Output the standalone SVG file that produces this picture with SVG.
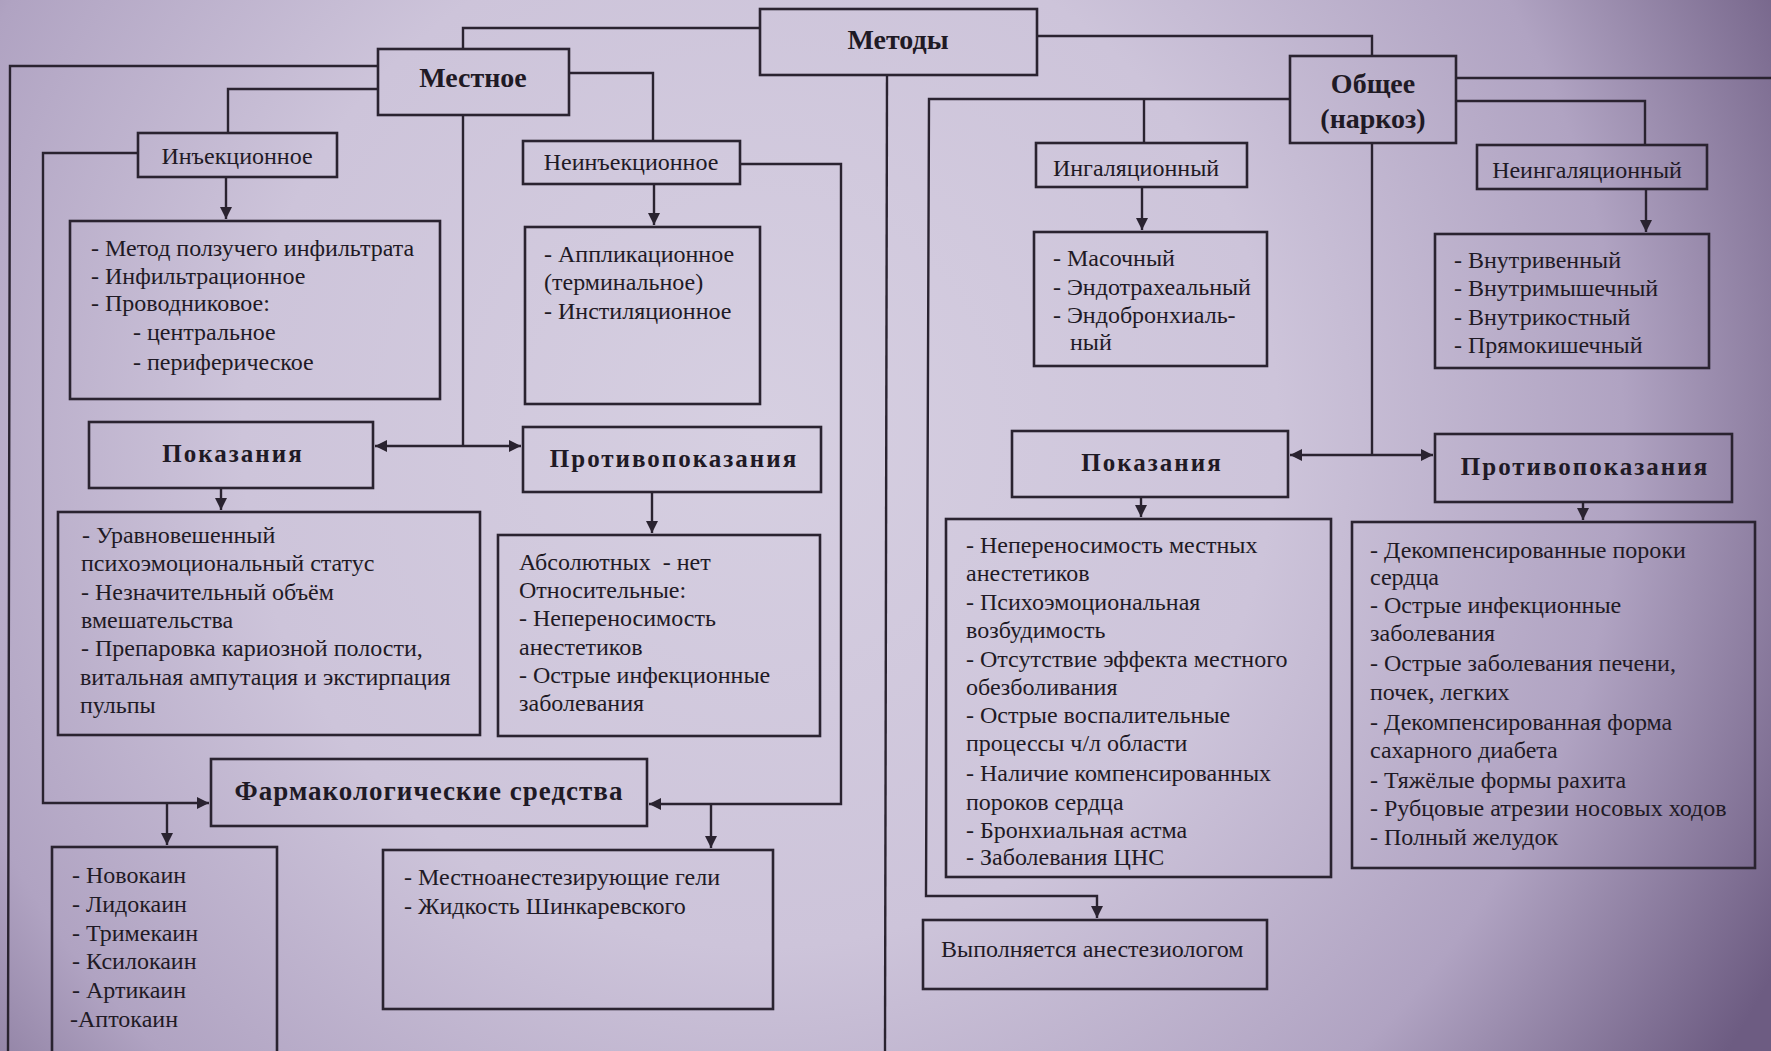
<svg xmlns="http://www.w3.org/2000/svg" width="1771" height="1051" viewBox="0 0 1771 1051">
<style>
.bx{fill:none;stroke:#2a2330;stroke-width:2.6}
.ln{fill:none;stroke:#2a2330;stroke-width:2.4}
.t{font-family:"Liberation Serif","Times New Roman",serif;font-size:24px;fill:#1f1a25}
.h{font-family:"Liberation Serif","Times New Roman",serif;font-size:28px;font-weight:bold;fill:#1f1a25;text-anchor:middle}
.h2{font-family:"Liberation Serif","Times New Roman",serif;font-size:25px;font-weight:bold;fill:#1f1a25;text-anchor:middle;letter-spacing:2px}
.c{text-anchor:middle}
</style>
<defs>
<radialGradient id="bg" cx="760" cy="430" r="1150" gradientUnits="userSpaceOnUse">
<stop offset="0" stop-color="#d6cfe1"/>
<stop offset="0.45" stop-color="#cdc4da"/>
<stop offset="0.75" stop-color="#b0a3c2"/>
<stop offset="1" stop-color="#6d5c82"/>
</radialGradient>
<marker id="ar" viewBox="0 0 10 10" refX="10" refY="5" markerWidth="12" markerHeight="12" markerUnits="userSpaceOnUse" orient="auto-start-reverse">
<path d="M0,0 L10,5 L0,10 z" fill="#2a2330"/>
</marker>
</defs>
<rect x="0" y="0" width="1771" height="1051" fill="url(#bg)"/>

<g id="connectors">
<polyline class="ln" points="760,28 463,28 463,49"/>
<polyline class="ln" points="1037,36 1372,36 1372,56"/>
<polyline class="ln" points="887,75 885,1051"/>
<polyline class="ln" points="378,66 10,66 8,1051"/>
<polyline class="ln" points="378,89 228,89 228,133"/>
<polyline class="ln" points="569,73 653,73 653,141"/>
<polyline class="ln" points="463,115 463,446"/>
<line class="ln" x1="375" y1="446" x2="521" y2="446" marker-start="url(#ar)" marker-end="url(#ar)"/>
<polyline class="ln" points="138,153 43,153 43,803 209,803" marker-end="url(#ar)"/>
<line class="ln" x1="167" y1="803" x2="167" y2="845" marker-end="url(#ar)"/>
<polyline class="ln" points="740,164 841,164 841,804 649,804" marker-end="url(#ar)"/>
<line class="ln" x1="711" y1="804" x2="711" y2="848" marker-end="url(#ar)"/>
<line class="ln" x1="226" y1="177" x2="226" y2="219" marker-end="url(#ar)"/>
<line class="ln" x1="654" y1="184" x2="654" y2="225" marker-end="url(#ar)"/>
<line class="ln" x1="221" y1="488" x2="221" y2="510" marker-end="url(#ar)"/>
<line class="ln" x1="652" y1="492" x2="652" y2="533" marker-end="url(#ar)"/>
<polyline class="ln" points="1456,78 1771,78"/>
<polyline class="ln" points="1456,101 1645,101 1645,145"/>
<polyline class="ln" points="1290,99 929,99 926,896 1097,896 1097,918" marker-end="url(#ar)"/>
<polyline class="ln" points="1144,99 1144,143"/>
<line class="ln" x1="1142" y1="187" x2="1142" y2="230" marker-end="url(#ar)"/>
<line class="ln" x1="1646" y1="189" x2="1646" y2="232" marker-end="url(#ar)"/>
<polyline class="ln" points="1372,143 1372,455"/>
<line class="ln" x1="1290" y1="455" x2="1433" y2="455" marker-start="url(#ar)" marker-end="url(#ar)"/>
<line class="ln" x1="1141" y1="497" x2="1141" y2="517" marker-end="url(#ar)"/>
<line class="ln" x1="1583" y1="502" x2="1583" y2="520" marker-end="url(#ar)"/>
</g>

<g id="metody"><rect class="bx" x="760" y="9" width="277" height="66"/><text class="h" x="898" y="49">Методы</text></g>
<g id="mestnoe"><rect class="bx" x="378" y="49" width="191" height="66"/><text class="h" x="473" y="87">Местное</text></g>
<g id="obshee"><rect class="bx" x="1290" y="56" width="166" height="87"/><text class="h" x="1373" y="93">Общее</text><text class="h" x="1373" y="128">(наркоз)</text></g>

<g id="inj"><rect class="bx" x="138" y="133" width="199" height="44"/><text class="t c" x="237" y="164">Инъекционное</text></g>
<g id="noninj"><rect class="bx" x="523" y="141" width="217" height="43"/><text class="t c" x="631" y="170">Неинъекционное</text></g>

<g id="inj-list"><rect class="bx" x="70" y="221" width="370" height="178"/>
<text class="t"><tspan x="91" y="256">- Метод ползучего инфильтрата</tspan><tspan x="91" y="284">- Инфильтрационное</tspan><tspan x="91" y="311">- Проводниковое:</tspan><tspan x="133" y="340">- центральное</tspan><tspan x="133" y="370">- периферическое</tspan></text></g>

<g id="noninj-list"><rect class="bx" x="525" y="227" width="235" height="177"/>
<text class="t"><tspan x="544" y="262">- Аппликационное</tspan><tspan x="544" y="290">(терминальное)</tspan><tspan x="544" y="319">- Инстиляционное</tspan></text></g>

<g id="pokaz-l"><rect class="bx" x="89" y="422" width="284" height="66"/><text class="h2" x="233" y="462">Показания</text></g>
<g id="protiv-l"><rect class="bx" x="523" y="427" width="298" height="65"/><text class="h2" x="674" y="467">Противопоказания</text></g>

<g id="pokaz-l-list"><rect class="bx" x="58" y="512" width="422" height="223"/>
<text class="t"><tspan x="82" y="543">- Уравновешенный</tspan><tspan x="81" y="571">психоэмоциональный статус</tspan><tspan x="81" y="600">- Незначительный объём</tspan><tspan x="81" y="628">вмешательства</tspan><tspan x="81" y="656">- Препаровка кариозной полости,</tspan><tspan x="80" y="685">витальная ампутация и экстирпация</tspan><tspan x="80" y="713">пульпы</tspan></text></g>

<g id="protiv-l-list"><rect class="bx" x="498" y="535" width="322" height="201"/>
<text class="t" xml:space="preserve"><tspan x="519" y="570">Абсолютных  - нет</tspan><tspan x="519" y="598">Относительные:</tspan><tspan x="519" y="626">- Непереносимость</tspan><tspan x="519" y="655">анестетиков</tspan><tspan x="519" y="683">- Острые инфекционные</tspan><tspan x="519" y="711">заболевания</tspan></text></g>

<g id="farm"><rect class="bx" x="211" y="759" width="436" height="67"/><text class="h2" x="429" y="800" style="font-size:27px;letter-spacing:1px">Фармакологические средства</text></g>

<g id="inj-drugs"><rect class="bx" x="52" y="847" width="225" height="215"/>
<text class="t"><tspan x="72" y="883">- Новокаин</tspan><tspan x="72" y="912">- Лидокаин</tspan><tspan x="72" y="941">- Тримекаин</tspan><tspan x="72" y="969">- Ксилокаин</tspan><tspan x="72" y="998">- Артикаин</tspan><tspan x="70" y="1027">-Аптокаин</tspan></text></g>

<g id="noninj-drugs"><rect class="bx" x="383" y="850" width="390" height="159"/>
<text class="t"><tspan x="404" y="885">- Местноанестезирующие гели</tspan><tspan x="404" y="914">- Жидкость Шинкаревского</tspan></text></g>

<g id="ingal"><rect class="bx" x="1036" y="143" width="211" height="44"/><text class="t c" x="1136" y="176">Ингаляционный</text></g>
<g id="noningal"><rect class="bx" x="1477" y="145" width="230" height="44"/><text class="t c" x="1587" y="178">Неингаляционный</text></g>

<g id="ingal-list"><rect class="bx" x="1034" y="232" width="233" height="134"/>
<text class="t"><tspan x="1053" y="266">- Масочный</tspan><tspan x="1053" y="295">- Эндотрахеальный</tspan><tspan x="1053" y="323">- Эндобронхиаль-</tspan><tspan x="1070" y="350">ный</tspan></text></g>

<g id="noningal-list"><rect class="bx" x="1435" y="234" width="274" height="134"/>
<text class="t"><tspan x="1454" y="268">- Внутривенный</tspan><tspan x="1454" y="296">- Внутримышечный</tspan><tspan x="1454" y="325">- Внутрикостный</tspan><tspan x="1454" y="353">- Прямокишечный</tspan></text></g>

<g id="pokaz-r"><rect class="bx" x="1012" y="431" width="276" height="66"/><text class="h2" x="1152" y="471">Показания</text></g>
<g id="protiv-r"><rect class="bx" x="1435" y="434" width="297" height="68"/><text class="h2" x="1585" y="475">Противопоказания</text></g>

<g id="pokaz-r-list"><rect class="bx" x="946" y="519" width="385" height="358"/>
<text class="t"><tspan x="966" y="553">- Непереносимость местных</tspan><tspan x="966" y="581">анестетиков</tspan><tspan x="966" y="610">- Психоэмоциональная</tspan><tspan x="966" y="638">возбудимость</tspan><tspan x="966" y="667">- Отсутствие эффекта местного</tspan><tspan x="966" y="695">обезболивания</tspan><tspan x="966" y="723">- Острые воспалительные</tspan><tspan x="966" y="751">процессы ч/л области</tspan><tspan x="966" y="781">- Наличие компенсированных</tspan><tspan x="966" y="810">пороков сердца</tspan><tspan x="966" y="838">- Бронхиальная астма</tspan><tspan x="966" y="865">- Заболевания ЦНС</tspan></text></g>

<g id="protiv-r-list"><rect class="bx" x="1352" y="522" width="403" height="346"/>
<text class="t"><tspan x="1370" y="558">- Декомпенсированные пороки</tspan><tspan x="1370" y="585">сердца</tspan><tspan x="1370" y="613">- Острые инфекционные</tspan><tspan x="1370" y="641">заболевания</tspan><tspan x="1370" y="671">- Острые заболевания печени,</tspan><tspan x="1370" y="700">почек, легких</tspan><tspan x="1370" y="730">- Декомпенсированная форма</tspan><tspan x="1370" y="758">сахарного диабета</tspan><tspan x="1370" y="788">- Тяжёлые формы рахита</tspan><tspan x="1370" y="816">- Рубцовые атрезии носовых ходов</tspan><tspan x="1370" y="845">- Полный желудок</tspan></text></g>

<g id="vypoln"><rect class="bx" x="923" y="920" width="344" height="69"/><text class="t" x="941" y="957">Выполняется анестезиологом</text></g>
</svg>
